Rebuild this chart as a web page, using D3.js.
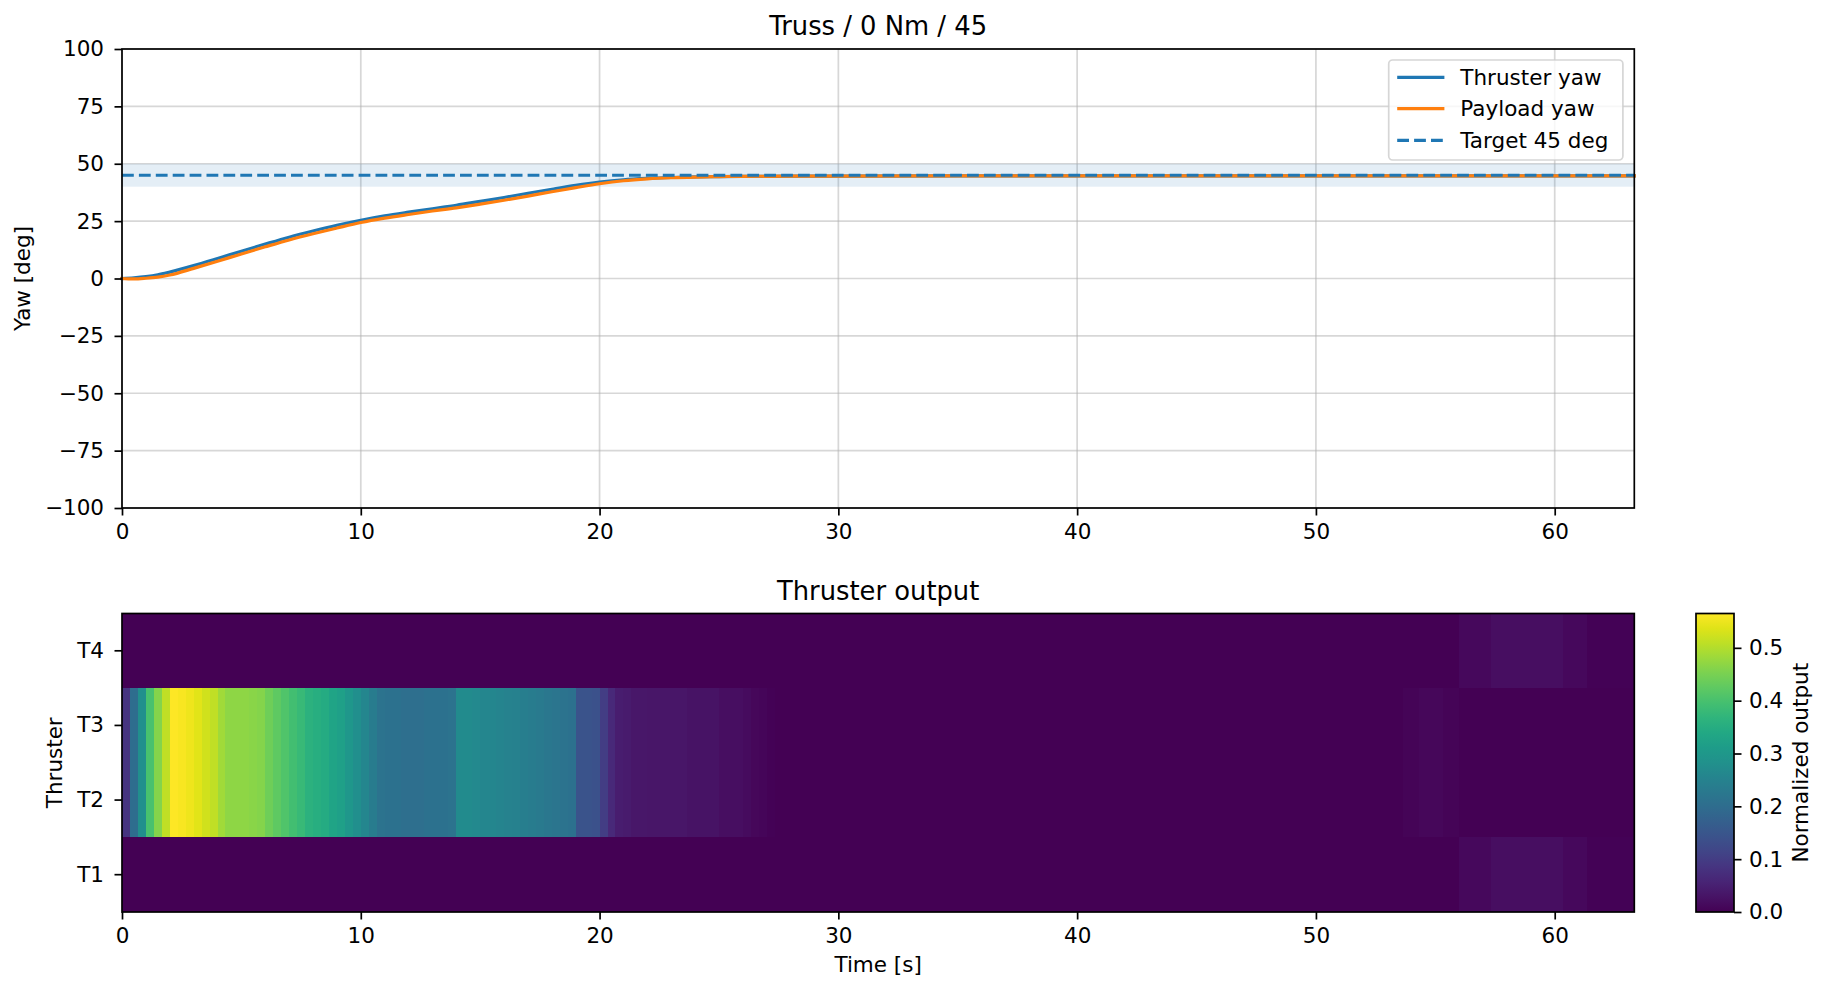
<!DOCTYPE html>
<html>
<head>
<meta charset="utf-8">
<script src="https://cdn.jsdelivr.net/npm/d3@7"></script>
<style>
  body { margin: 0; background: #fff; }
  svg { font-family: "DejaVu Sans", sans-serif; }
</style>
</head>
<body>
<script>
// yaw traces (deg)
var yawTime = [0, 0.5, 1, 1.5, 2, 3, 4, 5, 6, 7, 8, 9, 10, 11, 12, 13, 14, 15, 16, 17, 18, 19, 20,
  21, 22, 23, 24, 25, 26, 28, 30, 35, 40, 45, 50, 55, 60, 63.33];
var thrusterYaw = [0, 0.3, 0.8, 1.6, 2.8, 5.6, 8.7, 11.9, 15.0, 18.0, 20.7, 23.2, 25.4, 27.3, 28.9,
  30.4, 31.9, 33.6, 35.3, 37.1, 38.9, 40.6, 42.0, 43.0, 43.6, 44.0, 44.3, 44.4, 44.5, 44.6, 44.6,
  44.7, 44.7, 44.7, 44.7, 44.7, 44.7, 44.7];
var payloadYaw = [0, -0.2, 0.1, 0.6, 1.5, 4.4, 7.5, 10.7, 13.8, 16.8, 19.5, 22.0, 24.4, 26.3, 27.9,
  29.4, 30.8, 32.4, 34.1, 35.9, 37.8, 39.6, 41.3, 42.6, 43.4, 43.9, 44.2, 44.4, 44.5, 44.6, 44.6,
  44.7, 44.7, 44.7, 44.7, 44.7, 44.7, 44.7];
var targetYaw = 45;
var targetBand = [40, 50];

var seriesNames = ["Thruster yaw", "Payload yaw", "Target 45 deg"];
var seriesColors = ["#1f77b4", "#ff7f0e", "#1f77b4"];

// thruster output heatmap, one value per 1/3 s bin
var thrusters = ["T1", "T2", "T3", "T4"];
var binStep = 1 / 3;
// T2 and T3 share the same output
var innerPair = [
  0.085, 0.20, 0.28, 0.40, 0.46, 0.51, 0.565, 0.56, 0.55, 0.54,
  0.525, 0.51, 0.485, 0.47, 0.47, 0.47, 0.465, 0.46, 0.44, 0.425,
  0.41, 0.395, 0.38, 0.36, 0.355, 0.345, 0.33, 0.32, 0.30, 0.28,
  0.26, 0.235, 0.215, 0.21, 0.21, 0.205, 0.205, 0.205, 0.21, 0.21,
  0.21, 0.215, 0.27, 0.27, 0.265, 0.26, 0.26, 0.255, 0.25, 0.245,
  0.24, 0.235, 0.23, 0.225, 0.22, 0.215, 0.21, 0.145, 0.145, 0.14,
  0.10, 0.065, 0.045, 0.04, 0.034, 0.034, 0.031, 0.031, 0.031, 0.031,
  0.031, 0.028, 0.028, 0.028, 0.028, 0.02, 0.02, 0.02, 0.016, 0.011,
  0.008, 0.004, 0, 0, 0, 0, 0, 0, 0, 0,
  0, 0, 0, 0, 0, 0, 0, 0, 0, 0,
  0, 0, 0, 0, 0, 0, 0, 0, 0, 0,
  0, 0, 0, 0, 0, 0, 0, 0, 0, 0,
  0, 0, 0, 0, 0, 0, 0, 0, 0, 0,
  0, 0, 0, 0, 0, 0, 0, 0, 0, 0,
  0, 0, 0, 0, 0, 0, 0, 0, 0, 0,
  0, 0, 0, 0, 0, 0, 0, 0, 0, 0,
  0, 0.006, 0.006, 0.011, 0.011, 0.011, 0.006, 0.006, 0, 0,
  0, 0, 0, 0, 0, 0, 0, 0, 0, 0,
  0, 0, 0, 0, 0, 0, 0, 0, 0, 0
];
// T1 and T4 share the same output
var outerPair = [
  0, 0, 0, 0, 0, 0, 0, 0, 0, 0,
  0, 0, 0, 0, 0, 0, 0, 0, 0, 0,
  0, 0, 0, 0, 0, 0, 0, 0, 0, 0,
  0, 0, 0, 0, 0, 0, 0, 0, 0, 0,
  0, 0, 0, 0, 0, 0, 0, 0, 0, 0,
  0, 0, 0, 0, 0, 0, 0, 0, 0, 0,
  0, 0, 0, 0, 0, 0, 0, 0, 0, 0,
  0, 0, 0, 0, 0, 0, 0, 0, 0, 0,
  0, 0, 0, 0, 0, 0, 0, 0, 0, 0,
  0, 0, 0, 0, 0, 0, 0, 0, 0, 0,
  0, 0, 0, 0, 0, 0, 0, 0, 0, 0,
  0, 0, 0, 0, 0, 0, 0, 0, 0, 0,
  0, 0, 0, 0, 0, 0, 0, 0, 0, 0,
  0, 0, 0, 0, 0, 0, 0, 0, 0, 0,
  0, 0, 0, 0, 0, 0, 0, 0, 0, 0,
  0, 0, 0, 0, 0, 0, 0, 0, 0, 0,
  0, 0, 0, 0, 0, 0, 0, 0, 0.013, 0.013,
  0.013, 0.013, 0.022, 0.022, 0.022, 0.022, 0.022, 0.022, 0.021, 0.021,
  0.021, 0.013, 0.013, 0.013, 0.004, 0.004, 0.004, 0.004, 0.004, 0.004
];
var outputRows = { T1: outerPair, T2: innerPair, T3: innerPair, T4: outerPair };
var colorMax = 0.565;

var yawTicks = [-100, -75, -50, -25, 0, 25, 50, 75, 100];
var timeTicks = [0, 10, 20, 30, 40, 50, 60];
var colorTicks = [0, 0.1, 0.2, 0.3, 0.4, 0.5];

var width = 1829, height = 992;
var fontSize = 21.5, titleSize = 25.8;
var left = 122, right = 1634.3;
var topPanel = { top: 49, bottom: 508 };
var lowPanel = { top: 613.5, bottom: 912 };
var cbar = { left: 1696, right: 1734 };
var lw = 1.7, tickLen = 7.5;

var tMax = innerPair.length * binStep;

var svg = d3.select("body").append("svg")
    .attr("width", width)
    .attr("height", height);

var x = d3.scaleLinear().domain([0, tMax]).range([left, right]);
var y = d3.scaleLinear().domain([-100, 100]).range([topPanel.bottom, topPanel.top]);
var yRow = d3.scaleBand().domain(thrusters.slice().reverse()).range([lowPanel.top, lowPanel.bottom]);
var color = d3.scaleSequential(d3.interpolateViridis).domain([0, colorMax]);
var yColor = d3.scaleLinear().domain([0, colorMax]).range([lowPanel.bottom, lowPanel.top]);

function styleAxis(g) {
  g.select(".domain").remove();
  g.attr("font-size", fontSize).attr("font-family", "DejaVu Sans");
  g.selectAll(".tick line").attr("stroke", "#000").attr("stroke-width", lw);
  g.selectAll(".tick text").attr("fill", "#000");
}

// ---------- upper panel ----------
var upper = svg.append("g");

// grid
upper.append("g").selectAll("line").data(timeTicks).enter().append("line")
    .attr("x1", function(d) { return x(d); }).attr("x2", function(d) { return x(d); })
    .attr("y1", topPanel.top).attr("y2", topPanel.bottom)
    .attr("stroke", "#b0b0b0").attr("stroke-opacity", 0.5).attr("stroke-width", lw);
upper.append("g").selectAll("line").data(yawTicks).enter().append("line")
    .attr("x1", left).attr("x2", right)
    .attr("y1", function(d) { return y(d); }).attr("y2", function(d) { return y(d); })
    .attr("stroke", "#b0b0b0").attr("stroke-opacity", 0.5).attr("stroke-width", lw);

// tolerance band
upper.append("rect")
    .attr("x", left).attr("width", right - left)
    .attr("y", y(targetBand[1])).attr("height", y(targetBand[0]) - y(targetBand[1]))
    .attr("fill", "#1f77b4").attr("fill-opacity", 0.12);

var line = d3.line()
    .x(function(d) { return x(d[0]); })
    .y(function(d) { return y(d[1]); })
    .curve(d3.curveMonotoneX);

[thrusterYaw, payloadYaw].forEach(function(vals, k) {
  upper.append("path")
      .datum(yawTime.map(function(t, i) { return [t, vals[i]]; }))
      .attr("d", line)
      .attr("fill", "none")
      .attr("stroke", seriesColors[k])
      .attr("stroke-width", 3.2)
      .attr("stroke-linejoin", "round")
      .attr("stroke-linecap", "square");
});

upper.append("line")
    .attr("x1", left).attr("x2", right)
    .attr("y1", y(targetYaw)).attr("y2", y(targetYaw))
    .attr("stroke", seriesColors[2]).attr("stroke-width", 3.2)
    .attr("stroke-dasharray", "11.8,5.1");

upper.append("g")
    .attr("transform", "translate(0," + topPanel.bottom + ")")
    .call(d3.axisBottom(x).tickValues(timeTicks).tickSize(tickLen).tickPadding(8.5).tickFormat(d3.format("d")))
    .call(styleAxis);
upper.append("g")
    .attr("transform", "translate(" + left + ",0)")
    .call(d3.axisLeft(y).tickValues(yawTicks).tickSize(tickLen).tickPadding(10.5).tickFormat(d3.format("d")))
    .call(styleAxis);

upper.append("rect")
    .attr("x", left).attr("y", topPanel.top)
    .attr("width", right - left).attr("height", topPanel.bottom - topPanel.top)
    .attr("fill", "none").attr("stroke", "#000").attr("stroke-width", lw);

upper.append("text")
    .attr("x", (left + right) / 2).attr("y", topPanel.top - 14)
    .attr("text-anchor", "middle").attr("font-size", titleSize)
    .text("Truss / 0 Nm / 45");

upper.append("text")
    .attr("transform", "translate(30," + (topPanel.top + topPanel.bottom) / 2 + ") rotate(-90)")
    .attr("text-anchor", "middle").attr("font-size", fontSize)
    .text("Yaw [deg]");

// legend
var legend = upper.append("g");
legend.append("rect")
    .attr("x", 1388.7).attr("y", 60).attr("width", 234.2).attr("height", 100).attr("rx", 4)
    .attr("fill", "#fff").attr("fill-opacity", 0.8)
    .attr("stroke", "#cccccc").attr("stroke-opacity", 0.8).attr("stroke-width", lw);
var rowY = [77.3, 108.7, 140.3];
seriesNames.forEach(function(name, k) {
  legend.append("line")
      .attr("x1", 1397.2).attr("x2", 1444.4)
      .attr("y1", rowY[k]).attr("y2", rowY[k])
      .attr("stroke", seriesColors[k]).attr("stroke-width", 3.2)
      .attr("stroke-dasharray", k === 2 ? "11.8,5.1" : null);
  legend.append("text")
      .attr("x", 1460.3).attr("y", rowY[k]).attr("dy", "0.35em")
      .attr("font-size", fontSize)
      .text(name);
});

// ---------- lower panel: heatmap ----------
var low = svg.append("g");

thrusters.forEach(function(name) {
  var y0 = Math.round(yRow(name)), y1 = Math.round(yRow(name) + yRow.bandwidth());
  low.append("g").selectAll("rect")
      .data(outputRows[name])
    .enter().append("rect")
      .attr("shape-rendering", "crispEdges")
      .attr("x", function(d, i) { return Math.round(x(i * binStep)); })
      .attr("width", function(d, i) { return Math.round(x((i + 1) * binStep)) - Math.round(x(i * binStep)); })
      .attr("y", y0)
      .attr("height", y1 - y0)
      .attr("fill", function(d) { return color(d); });
});

low.append("g")
    .attr("transform", "translate(0," + lowPanel.bottom + ")")
    .call(d3.axisBottom(x).tickValues(timeTicks).tickSize(tickLen).tickPadding(8.5).tickFormat(d3.format("d")))
    .call(styleAxis);
low.append("g")
    .attr("transform", "translate(" + left + ",0)")
    .call(d3.axisLeft(yRow).tickSize(tickLen).tickPadding(10.5))
    .call(styleAxis);

low.append("rect")
    .attr("x", left).attr("y", lowPanel.top)
    .attr("width", right - left).attr("height", lowPanel.bottom - lowPanel.top)
    .attr("fill", "none").attr("stroke", "#000").attr("stroke-width", lw);

low.append("text")
    .attr("x", (left + right) / 2).attr("y", lowPanel.top - 14)
    .attr("text-anchor", "middle").attr("font-size", titleSize)
    .text("Thruster output");

low.append("text")
    .attr("x", (left + right) / 2).attr("y", 972)
    .attr("text-anchor", "middle").attr("font-size", fontSize)
    .text("Time [s]");

low.append("text")
    .attr("transform", "translate(62," + (lowPanel.top + lowPanel.bottom) / 2 + ") rotate(-90)")
    .attr("text-anchor", "middle").attr("font-size", fontSize)
    .text("Thruster");

// ---------- colorbar ----------
var defs = svg.append("defs");
var grad = defs.append("linearGradient")
    .attr("id", "viridis")
    .attr("x1", 0).attr("y1", 1).attr("x2", 0).attr("y2", 0);
d3.range(0, 1.0001, 0.05).forEach(function(s) {
  grad.append("stop").attr("offset", s).attr("stop-color", d3.interpolateViridis(s));
});

var cb = svg.append("g");
cb.append("rect")
    .attr("x", cbar.left).attr("y", lowPanel.top)
    .attr("width", cbar.right - cbar.left).attr("height", lowPanel.bottom - lowPanel.top)
    .attr("fill", "url(#viridis)");
cb.append("g")
    .attr("transform", "translate(" + cbar.right + ",0)")
    .call(d3.axisRight(yColor).tickValues(colorTicks).tickSize(tickLen).tickPadding(7.5).tickFormat(d3.format(".1f")))
    .call(styleAxis);
cb.append("rect")
    .attr("x", cbar.left).attr("y", lowPanel.top)
    .attr("width", cbar.right - cbar.left).attr("height", lowPanel.bottom - lowPanel.top)
    .attr("fill", "none").attr("stroke", "#000").attr("stroke-width", lw);
cb.append("text")
    .attr("transform", "translate(1808," + (lowPanel.top + lowPanel.bottom) / 2 + ") rotate(-90)")
    .attr("text-anchor", "middle").attr("font-size", fontSize)
    .text("Normalized output");
</script>
</body>
</html>
